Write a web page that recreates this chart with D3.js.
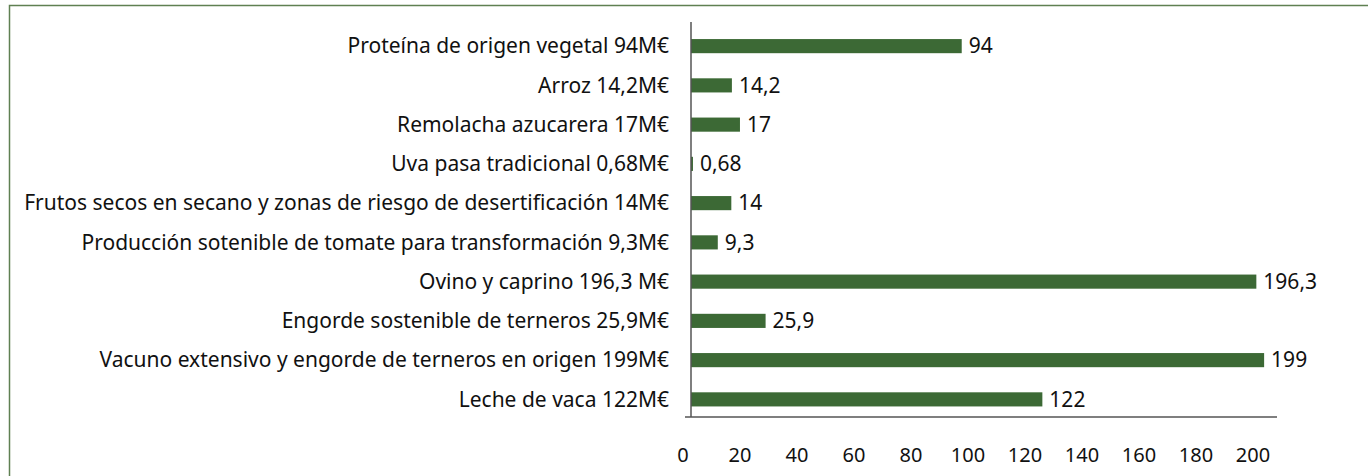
<!DOCTYPE html>
<html>
<head>
<meta charset="utf-8">
<script src="https://cdn.jsdelivr.net/npm/d3@7.9.0/dist/d3.min.js"></script>
<style>
  body { margin: 0; background: #fff; }
  svg text { font-family: "Noto Sans", "Open Sans", sans-serif; fill: #111; }
</style>
</head>
<body>
<svg id="chart" width="1368" height="476"></svg>
<script>
// categories top to bottom, as in the chart
const categories = [
  'Proteína de origen vegetal 94M€',
  'Arroz 14,2M€',
  'Remolacha azucarera 17M€',
  'Uva pasa tradicional 0,68M€',
  'Frutos secos en secano y zonas de riesgo de desertificación 14M€',
  'Producción sotenible de tomate para transformación 9,3M€',
  'Ovino y caprino 196,3 M€',
  'Engorde sostenible de terneros 25,9M€',
  'Vacuno extensivo y engorde de terneros en origen 199M€',
  'Leche de vaca 122M€'
];
const values = [94, 14.2, 17, 0.68, 14, 9.3, 196.3, 25.9, 199, 122];
const valueLabels = ['94', '14,2', '17', '0,68', '14', '9,3', '196,3', '25,9', '199', '122'];
const ticks = [0, 20, 40, 60, 80, 100, 120, 140, 160, 180, 200];

const svg = d3.select('#chart');

// outer frame
svg.append('rect')
  .attr('x', 9.5).attr('y', 5.5)
  .attr('width', 1400).attr('height', 500)
  .attr('fill', 'none')
  .attr('stroke', '#5f8052')
  .attr('stroke-width', 1.5);

const x = d3.scaleLinear().domain([0, 200]).range([691, 1267]);
const y = d3.scaleBand().domain(categories).range([26.5, 419]).paddingInner(0.64).paddingOuter(0.32);

// tick labels sit a little left of the bar scale in the original
const xLabel = d3.scaleLinear().domain([0, 200]).range([683, 1253]);

// bars
svg.selectAll('rect.bar')
  .data(values)
  .join('rect')
  .attr('class', 'bar')
  .attr('x', x(0))
  .attr('y', (d, i) => y(categories[i]))
  .attr('width', d => x(d) - x(0))
  .attr('height', y.bandwidth())
  .attr('fill', '#3c6935');

// value labels
svg.selectAll('text.val')
  .data(values)
  .join('text')
  .attr('class', 'val')
  .attr('x', d => x(d) + 7)
  .attr('y', (d, i) => y(categories[i]) + y.bandwidth() / 2)
  .attr('dy', '0.35em')
  .attr('font-size', 21)
  .text((d, i) => valueLabels[i]);

// category labels
svg.selectAll('text.cat')
  .data(categories)
  .join('text')
  .attr('class', 'cat')
  .attr('x', 669)
  .attr('y', d => y(d) + y.bandwidth() / 2)
  .attr('dy', '0.35em')
  .attr('text-anchor', 'end')
  .attr('font-size', 21)
  .text(d => d);

// axes lines
svg.append('line')
  .attr('x1', x(0)).attr('x2', x(0))
  .attr('y1', 22).attr('y2', 417)
  .attr('stroke', '#555').attr('stroke-width', 1.5);
svg.append('line')
  .attr('x1', 685).attr('x2', 1277)
  .attr('y1', 417).attr('y2', 417)
  .attr('stroke', '#555').attr('stroke-width', 1.5);

// x tick labels
svg.selectAll('text.tick')
  .data(ticks)
  .join('text')
  .attr('class', 'tick')
  .attr('x', d => xLabel(d))
  .attr('y', 455)
  .attr('dy', '0.35em')
  .attr('text-anchor', 'middle')
  .attr('font-size', 20)
  .text(d => d);
</script>
</body>
</html>
